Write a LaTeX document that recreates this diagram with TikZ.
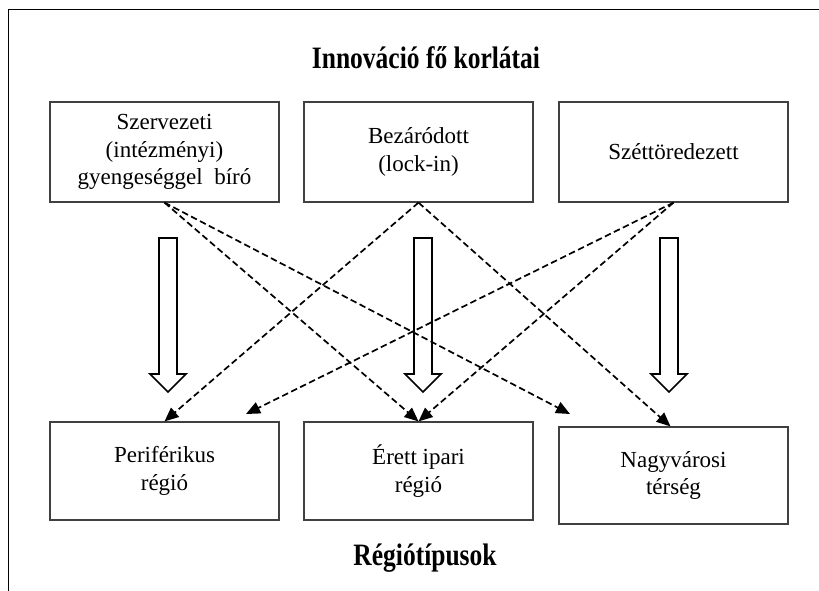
\documentclass[tikz,border=0pt]{standalone}
\usepackage{fontspec}
\setmainfont{Liberation Serif}
\usetikzlibrary{arrows.meta}
\begin{document}
\begin{tikzpicture}[x=1pt,y=-1pt,
  box/.style={draw=black!75,line width=1.2pt,minimum width=229pt,inner sep=0pt,
    align=center,font=\fontsize{23}{27.5}\selectfont},
  dasharrow/.style={line width=1.7pt,dash pattern=on 6.5pt off 3.5pt,
    -{Triangle[length=14pt,width=12pt]}},
  hollow/.style={draw=black,line width=1.7pt,fill=white},
  heading/.style={font=\fontsize{25.5}{30}\selectfont\bfseries,yscale=1.22,transform shape}]
\useasboundingbox (0,0) rectangle (819,591);
\draw[line width=1.6pt] (8.5,591) -- (8.5,9.5) -- (819,9.5);
\node[heading] (title) at (426,58) {Innováció fő korlátai};
\node[heading] (foot) at (425,558) {Régiótípusok};
\node[box,minimum height=100pt] (b1) at (164.5,152) {Szervezeti\\(intézményi)\\gyengeséggel~~bíró};
\node[box,minimum height=100pt] (b2) at (418.5,152) {Bezáródott\\(lock-in)};
\node[box,minimum height=100pt] (b3) at (673.5,152) {Széttöredezett};
\node[box,minimum height=98pt] (b4) at (164.5,471) {Periférikus\\régió};
\node[box,minimum height=98pt] (b5) at (418.5,471) {Érett ipari\\régió};
\node[box,minimum height=97pt] (b6) at (673.5,475.5) {Nagyvárosi\\térség};
\foreach \cx in {168,423,669}{
  \draw[hollow] (\cx-9,238) -- (\cx+9,238) -- (\cx+9,374) -- (\cx+18,374)
    -- (\cx,392) -- (\cx-18,374) -- (\cx-9,374) -- cycle;
}
\coordinate (e1) at (570,414);
\coordinate (e3) at (246,414);
\draw[dasharrow] (b1.south) -- (b5.north);
\draw[dasharrow] (b1.south) -- (e1);
\draw[dasharrow] (b2.south) -- (b4.north);
\draw[dasharrow] (b2.south) -- ([xshift=-3pt]b6.north);
\draw[dasharrow] (b3.south) -- (e3);
\draw[dasharrow] (b3.south) -- (b5.north);
\end{tikzpicture}
\end{document}
